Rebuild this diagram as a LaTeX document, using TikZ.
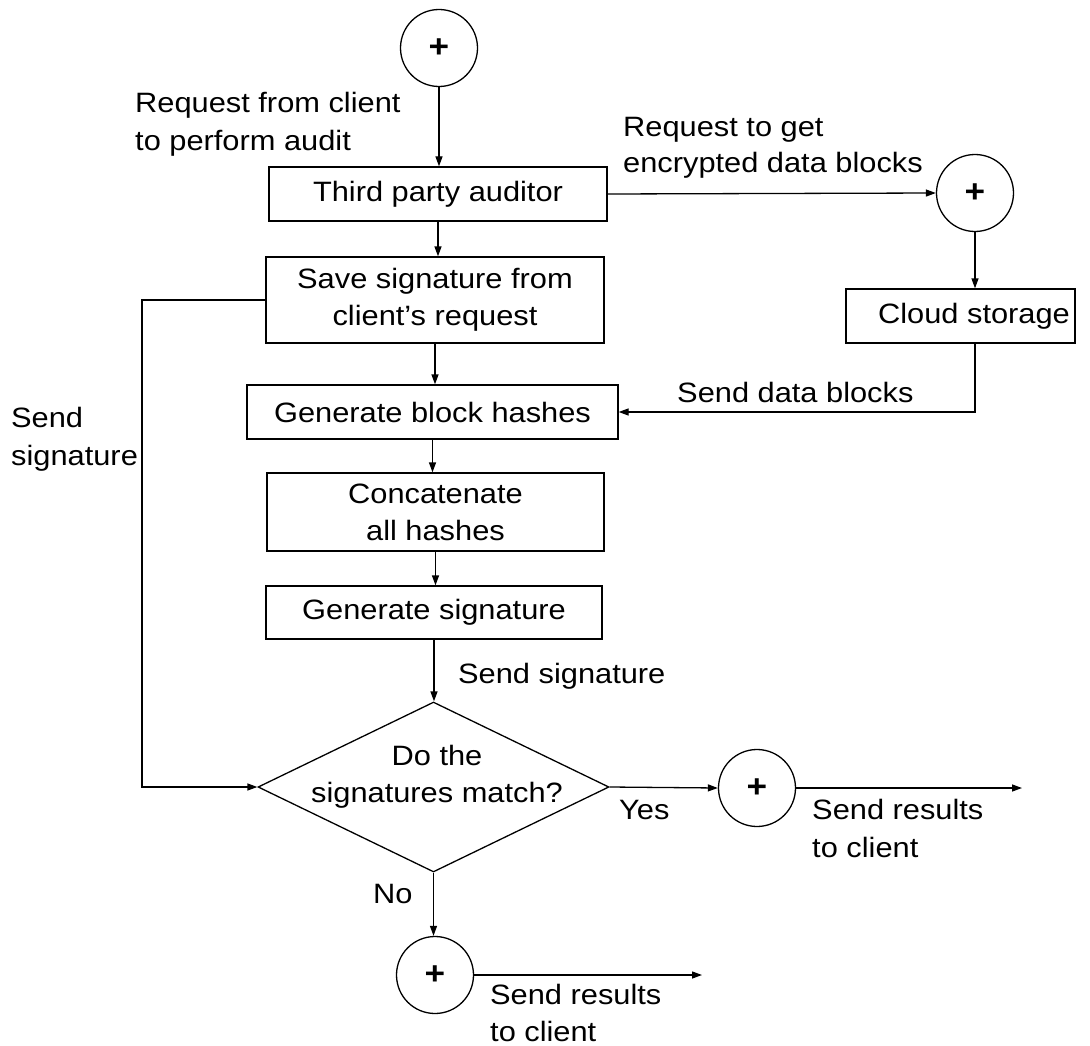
\documentclass[tikz,border=0pt]{standalone}
\usepackage{fontspec}
\setmainfont{Liberation Sans}[FakeStretch=1.1]
\usetikzlibrary{arrows.meta,shapes.geometric}
\begin{document}
\begin{tikzpicture}[x=1pt,y=-1pt,
  every node/.style={font=\fontsize{28}{37}\selectfont},
  proc/.style={draw,line width=1.3pt,inner sep=0pt},
  plusnode/.style={draw,circle,line width=1.3pt,inner sep=0pt,minimum size=77pt,font=\fontsize{32}{32}\selectfont\bfseries},
  lbl/.style={anchor=base west,inner sep=0pt},
  arr/.style={line width=1.3pt,-{Triangle[length=10pt,width=7pt]}},
]
\fill[white] (0,0) rectangle (1090,1046);
\useasboundingbox (0,0) rectangle (1090,1046);

% nodes
\node[plusnode] (c1) at (439,48) {+};
\node[proc,minimum width=338pt,minimum height=54pt] (tpa) at (438,194) {Third party auditor};
\node[plusnode] (c2) at (975,193) {+};
\node[proc,minimum width=229pt,minimum height=54pt] (cloud) at (960.5,316) {\hspace*{27pt}Cloud storage};
\node[proc,minimum width=338pt,minimum height=86pt,align=center] (save) at (435,300) {Save signature from\\client’s request};
\node[proc,minimum width=371pt,minimum height=54pt] (gbh) at (432.5,412) {Generate block hashes};
\node[proc,minimum width=337pt,minimum height=78pt,align=center] (cat) at (435.5,512) {Concatenate\\all hashes};
\node[proc,minimum width=336pt,minimum height=53pt] (gs) at (434,612.5) {Generate signature};
\node[draw,diamond,line width=1.3pt,minimum width=351pt,minimum height=170pt,inner sep=0pt] (dia) at (433.5,787) {};
\node[anchor=base,inner sep=0pt] (q1) at (437,765) {Do the};
\node[anchor=base,inner sep=0pt] (q2) at (437,802) {signatures match?};
\node[plusnode] (c3) at (757,788) {+};
\node[plusnode] (c4) at (435,975) {+};
\coordinate (lx) at (142,0);
\coordinate (yesend) at (1022,788);
\coordinate (noend) at (702,975);

% connectors
\draw[arr] (c1.south) -- (c1.south |- tpa.north);
\draw[arr] (tpa.east) -- (c2.west);
\draw[arr] (c2.south) -- (c2.south |- cloud.north);
\draw[arr] (tpa.south) -- (tpa.south |- save.north);
\draw[arr] (save.south) -- (save.south |- gbh.north);
\draw[arr] (cloud.south -| c2) |- (gbh.east);
\draw[arr] (gbh.south) -- (gbh.south |- cat.north);
\draw[arr] (cat.south) -- (cat.south |- gs.north);
\draw[arr] (gs.south) -- (gs.south |- dia.north);
\draw[arr] (save.west) -- (save.west -| lx) |- (dia.west);
\draw[arr] (dia.east) -- (c3.west);
\draw[arr] (c3.east) -- (c3.east -| yesend);
\draw[arr] (dia.south) -- (dia.south |- c4.north);
\draw[arr] (c4.east) -- (c4.east -| noend);

% labels
\node[lbl] (l1a) at (135,113) {Request from client};
\node[lbl] (l1b) at (135,150) {to perform audit};
\node[lbl] (l2a) at (623,137) {Request to get};
\node[lbl] (l2b) at (623,173) {encrypted data blocks};
\node[lbl] (l3) at (677,402) {Send data blocks};
\node[lbl] (l4a) at (11,427) {Send};
\node[lbl] (l4b) at (11,465) {signature};
\node[lbl] (l5) at (458,683) {Send signature};
\node[lbl] (l6) at (619,819) {Yes};
\node[lbl] (l7) at (373,903) {No};
\node[lbl] (l8a) at (812,819) {Send results};
\node[lbl] (l8b) at (812,857) {to client};
\node[lbl] (l9a) at (490,1004) {Send results};
\node[lbl] (l9b) at (490,1041) {to client};
\end{tikzpicture}
\end{document}
